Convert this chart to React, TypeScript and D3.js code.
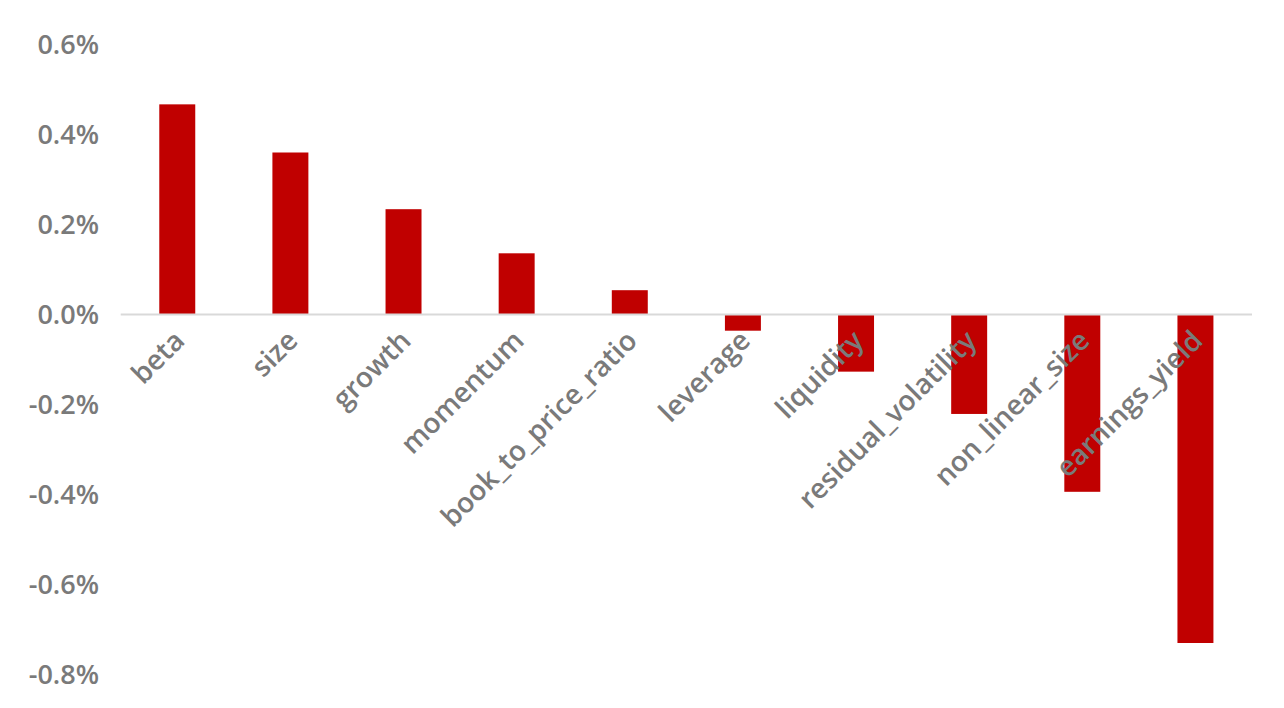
import React from "react";
import * as d3 from "d3";

const categories = [
  "beta",
  "size",
  "growth",
  "momentum",
  "book_to_price_ratio",
  "leverage",
  "liquidity",
  "residual_volatility",
  "non_linear_size",
  "earnings_yield",
];
const values = [0.467, 0.36, 0.234, 0.136, 0.054, -0.036, -0.127, -0.221, -0.394, -0.73];
const yTicks = [0.6, 0.4, 0.2, 0.0, -0.2, -0.4, -0.6, -0.8];

const W = 1284;
const H = 708;

export default function App() {
  const x = d3
    .scaleBand<string>()
    .domain(categories)
    .range([120.7, 1252])
    .paddingInner(0.682)
    .paddingOuter(0.341);
  const y = d3.scaleLinear().domain([-0.8, 0.6]).range([674.5, 44.5]);
  const y0 = y(0);
  const font = "'Open Sans', sans-serif";
  return (
    <svg
      width={W}
      height={H}
      style={{ position: "absolute", left: 0, top: 0, display: "block" }}
    >
      <rect x={0} y={0} width={W} height={H} fill="#ffffff" />
      {yTicks.map((t) => (
        <text
          key={t}
          x={99}
          y={y(t)}
          dy="0.35em"
          textAnchor="end"
          fontFamily={font}
          fontSize={27}
          fontWeight={600}
          fill="#7a7a7a"
        >
          {t.toFixed(1) + "%"}
        </text>
      ))}
      {categories.map((c, i) => {
        const v = values[i];
        const top = Math.min(y(v), y0);
        const h = Math.abs(y(v) - y0);
        return (
          <rect
            key={c}
            x={x(c)}
            y={top}
            width={x.bandwidth()}
            height={h}
            fill="#C00000"
          />
        );
      })}
      <line
        x1={120.7}
        x2={1252}
        y1={y0}
        y2={y0}
        stroke="#d9d9d9"
        strokeWidth={2}
      />
      {categories.map((c) => {
        const cx = (x(c) as number) + x.bandwidth() / 2 + 2;
        const ty = y0 + 21;
        return (
          <text
            key={"l" + c}
            transform={`translate(${cx},${ty}) rotate(-45)`}
            dy="0.35em"
            textAnchor="end"
            fontFamily={font}
            fontSize={28}
            fontWeight={600}
            fill="#7a7a7a"
          >
            {c}
          </text>
        );
      })}
    </svg>
  );
}
